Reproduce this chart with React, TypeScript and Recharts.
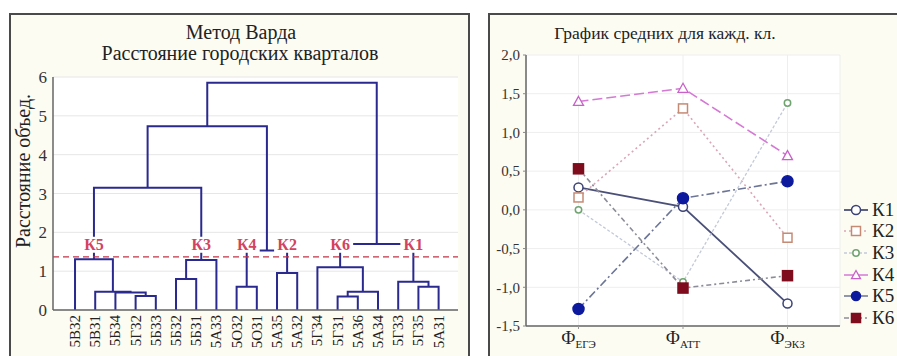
import React from 'react';
import { ComposedChart, LineChart, Line, Scatter, XAxis, YAxis, CartesianGrid, ReferenceLine } from 'recharts';

// --- dendrogram data (Ward method, city-block distance) ---
const leafLabels = ['5В32', '5В31', '5Б34', '5Г32', '5Б33', '5Б32', '5Б31', '5А33', '5О32', '5О31', '5А35', '5А32', '5Г34', '5Г31', '5А36', '5А34', '5Г33', '5Г35', '5А31'];
// merge k creates node id leafLabels.length + k
const mergeLeft = [3, 2, 1, 0, 5, 23, 22, 8, 10, 26, 25, 13, 30, 12, 17, 16, 32, 29];
const mergeRight = [4, 19, 20, 21, 6, 7, 24, 9, 11, 27, 28, 14, 15, 31, 18, 33, 34, 35];
const mergeHeight = [0.36, 0.45, 0.47, 1.31, 0.8, 1.29, 3.15, 0.6, 0.95, 1.53, 4.73, 0.35, 0.47, 1.1, 0.6, 0.73, 1.7, 5.85];
const cutHeight = 1.37;
const clusterNames = ['К5', 'К3', 'К4', 'К2', 'К6', 'К1'];
const clusterNodes = [22, 24, 26, 27, 32, 34];
const clusterLabelHeight = 1.68;
const distTicks = [0, 1, 2, 3, 4, 5, 6];

// --- cluster means ---
const categories = ['ЕГЭ', 'АТТ', 'ЭКЗ'];
const k1 = [0.29, 0.04, -1.21];
const k2 = [0.16, 1.31, -0.36];
const k3 = [0.0, -0.93, 1.38];
const k4 = [1.4, 1.57, 0.7];
const k5 = [-1.28, 0.15, 0.37];
const k6 = [0.53, -1.01, -0.85];
const meanTicks = [-1.5, -1, -0.5, 0, 0.5, 1, 1.5, 2];

const SERIF = "'Liberation Serif', 'Times New Roman', 'DejaVu Serif', 'Noto Serif', serif";

const nodeX: number[] = leafLabels.map((_, i) => i);
const nodeH: number[] = leafLabels.map(() => 0);
mergeHeight.forEach((h, k) => {
  nodeX.push((nodeX[mergeLeft[k]] + nodeX[mergeRight[k]]) / 2);
  nodeH.push(h);
});
const links = mergeHeight.map((h, k) => {
  const l = mergeLeft[k];
  const r = mergeRight[k];
  return [
    { x: nodeX[l], y: nodeH[l] },
    { x: nodeX[l], y: h },
    { x: nodeX[r], y: h },
    { x: nodeX[r], y: nodeH[r] },
  ];
});
const clusterPoints = clusterNames.map((name, i) => ({ x: nodeX[clusterNodes[i]], y: clusterLabelHeight, name }));

const meanRows = categories.map((cat, i) => ({ cat, K1: k1[i], K2: k2[i], K3: k3[i], K4: k4[i], K5: k5[i], K6: k6[i] }));

type MarkerKind = 'circle' | 'square' | 'triangle';
interface SeriesStyle {
  key: string;
  name: string;
  stroke: string;
  width: number;
  dash?: string;
  marker: MarkerKind;
  size: number;
  markerStroke: string;
  markerFill: string;
}

const seriesStyles: SeriesStyle[] = [
  { key: 'K1', name: 'К1', stroke: '#4a5078', width: 1.8, marker: 'circle', size: 4.5, markerStroke: '#3b4275', markerFill: '#ffffff' },
  { key: 'K2', name: 'К2', stroke: '#d9a6b6', width: 1.6, dash: '2 3', marker: 'square', size: 9, markerStroke: '#c68a74', markerFill: '#ffffff' },
  { key: 'K3', name: 'К3', stroke: '#c3c9d8', width: 1.3, dash: '3 2', marker: 'circle', size: 3.2, markerStroke: '#6fa46f', markerFill: '#ffffff' },
  { key: 'K4', name: 'К4', stroke: '#d47ad4', width: 1.6, dash: '10 4', marker: 'triangle', size: 10, markerStroke: '#c862c8', markerFill: '#ffffff' },
  { key: 'K5', name: 'К5', stroke: '#6c7596', width: 1.6, dash: '8 3 2 3', marker: 'circle', size: 5.5, markerStroke: '#0e1a9e', markerFill: '#0e1a9e' },
  { key: 'K6', name: 'К6', stroke: '#8c8c98', width: 1.6, dash: '5 3 2 3', marker: 'square', size: 10, markerStroke: '#7e0c1c', markerFill: '#7e0c1c' },
];

const drawMarker = (s: SeriesStyle, cx: number, cy: number, key?: any) => {
  if (s.marker === 'circle') {
    return <circle key={key} cx={cx} cy={cy} r={s.size} stroke={s.markerStroke} strokeWidth={1.5} fill={s.markerFill} />;
  }
  if (s.marker === 'square') {
    const h = s.size / 2;
    return <rect key={key} x={cx - h} y={cy - h} width={s.size} height={s.size} stroke={s.markerStroke} strokeWidth={1.5} fill={s.markerFill} />;
  }
  const h = s.size / 2;
  return (
    <polygon
      key={key}
      points={`${cx},${cy - h} ${cx + h},${cy + h * 0.8} ${cx - h},${cy + h * 0.8}`}
      stroke={s.markerStroke}
      strokeWidth={1.3}
      fill={s.markerFill}
    />
  );
};

const dotFor = (s: SeriesStyle) => (props: any) => {
  const { cx, cy, index } = props;
  if (cx == null || cy == null) return <g key={`e-${index}`} />;
  return drawMarker(s, cx, cy, `${s.key}-${index}`);
};

const LeafTick = (props: any) => {
  const { x, y, payload } = props;
  return (
    <text x={x} y={y} dy={5} transform={`rotate(-90 ${x} ${y})`} textAnchor="end" fontSize={15} style={{ fontFamily: SERIF }} fill="#222">
      {leafLabels[payload.value]}
    </text>
  );
};

const CatTick = (props: any) => {
  const { x, y, payload } = props;
  return (
    <text x={x} y={y + 13} textAnchor="middle" style={{ fontFamily: SERIF }} fill="#222">
      <tspan fontSize={18}>Ф</tspan>
      <tspan fontSize={11} dy={4}>{payload.value}</tspan>
    </text>
  );
};

const ClusterLabel = (props: any) => {
  const { cx, cy, payload } = props;
  return (
    <g>
      <rect x={cx - 13} y={cy - 8} width={26} height={16} fill="#ffffff" />
      <text x={cx} y={cy} dy={5} textAnchor="middle" fontSize={16} fontWeight="bold" style={{ fontFamily: SERIF }} fill="#d2435f">
        {payload.name}
      </text>
    </g>
  );
};

const fmtComma = (v: number) => v.toFixed(1).replace('.', ',');

const App: React.FC = () => {
  return (
    <div style={{ position: 'absolute', left: 0, top: 0, width: 897, height: 356, overflow: 'hidden', background: '#ffffff', fontFamily: SERIF }}>
      <style>{`.recharts-wrapper text, .recharts-wrapper tspan { font-family: ${SERIF}; }`}</style>
      {/* panel frames */}
      <div style={{ position: 'absolute', left: 9, top: 13, width: 457, height: 360, border: '2px solid #4a4a4a', background: '#fdfcf3' }} />
      <div style={{ position: 'absolute', left: 488, top: 13, width: 430, height: 360, border: '2px solid #4a4a4a', background: '#fdfcf3' }} />

      {/* left: dendrogram */}
      <div style={{ position: 'absolute', left: 0, top: 0 }}>
        <ComposedChart width={470} height={356} margin={{ top: 77, right: 12, bottom: 6, left: 13 }}>
          <CartesianGrid vertical={false} stroke="#e6e6e6" fill="#ffffff" />
          <XAxis
            dataKey="x"
            type="number"
            domain={[-1.09, 18.96]}
            allowDataOverflow
            ticks={leafLabels.map((_, i) => i)}
            interval={0}
            height={40}
            tickSize={0}
            tickMargin={5}
            tick={<LeafTick />}
            axisLine={{ stroke: '#666', strokeWidth: 1.5 }}
            tickLine={false}
          />
          <XAxis
            xAxisId="top"
            dataKey="x"
            type="number"
            orientation="top"
            domain={[-1.09, 18.96]}
            allowDataOverflow
            ticks={leafLabels.map((_, i) => i)}
            height={0}
            mirror
            tickSize={3}
            tick={false}
            axisLine={{ stroke: '#d8d8d8' }}
            tickLine={{ stroke: '#bbbbbb' }}
          />
          <YAxis
            dataKey="y"
            type="number"
            domain={[0, 6]}
            ticks={distTicks}
            width={40}
            tickSize={0}
            tickMargin={6}
            tickLine={false}
            axisLine={{ stroke: '#666', strokeWidth: 1.5 }}
            tick={{ fontSize: 17, fontFamily: SERIF, fill: '#333' }}
          />
          <YAxis yAxisId="r" orientation="right" type="number" domain={[0, 6]} width={0} tick={false} tickLine={false} axisLine={{ stroke: '#d8d8d8' }} />
          {links.map((pts, k) => (
            <Line
              key={`link-${k}`}
              data={pts}
              dataKey="y"
              type="linear"
              stroke="#2a2a8e"
              strokeWidth={2}
              dot={false}
              activeDot={false}
              isAnimationActive={false}
            />
          ))}
          <ReferenceLine y={cutHeight} stroke="#c23347" strokeDasharray="6 4" strokeWidth={1.2} />
          <Scatter data={clusterPoints} dataKey="y" shape={<ClusterLabel />} isAnimationActive={false} />
        </ComposedChart>
      </div>

      <div style={{ position: 'absolute', left: 241, top: 32, transform: 'translate(-50%, -50%)', fontSize: 20, color: '#222', whiteSpace: 'nowrap' }}>Метод Варда</div>
      <div style={{ position: 'absolute', left: 240, top: 53, transform: 'translate(-50%, -50%)', fontSize: 20, color: '#222', whiteSpace: 'nowrap' }}>Расстояние городских кварталов</div>
      <div style={{ position: 'absolute', left: 23, top: 171, transform: 'translate(-50%, -50%) rotate(-90deg)', fontSize: 20, color: '#222', whiteSpace: 'nowrap' }}>Расстояние объед.</div>

      {/* right: cluster means */}
      <div style={{ position: 'absolute', left: 488, top: 0 }}>
        <LineChart width={409} height={356} data={meanRows} margin={{ top: 55, right: 57, bottom: 4, left: 0 }}>
          <CartesianGrid stroke="#eeeeee" fill="#ffffff" />
          <XAxis
            dataKey="cat"
            padding={{ left: 52.5, right: 52.5 }}
            height={26}
            tickSize={3}
            tickMargin={2}
            tick={<CatTick />}
            axisLine={{ stroke: '#666', strokeWidth: 1.5 }}
            tickLine={{ stroke: '#999' }}
          />
          <XAxis xAxisId="top" dataKey="cat" orientation="top" padding={{ left: 52.5, right: 52.5 }} height={0} mirror tick={false} tickSize={3} axisLine={{ stroke: '#aaaaaa' }} tickLine={{ stroke: '#aaaaaa' }} />
          <YAxis
            type="number"
            domain={[-1.5, 2]}
            ticks={meanTicks}
            width={38}
            tickSize={3}
            tickMargin={3}
            tickFormatter={fmtComma}
            axisLine={{ stroke: '#666', strokeWidth: 1.5 }}
            tickLine={{ stroke: '#888' }}
            tick={{ fontSize: 15, fontFamily: SERIF, fill: '#333' }}
          />
          <YAxis yAxisId="r" orientation="right" type="number" domain={[-1.5, 2]} ticks={meanTicks} width={0} mirror tickSize={3} tick={false} axisLine={{ stroke: '#aaaaaa' }} tickLine={{ stroke: '#aaaaaa' }} />
          {seriesStyles.map((s) => (
            <Line
              key={s.key}
              dataKey={s.key}
              name={s.name}
              type="linear"
              stroke={s.stroke}
              strokeWidth={s.width}
              strokeDasharray={s.dash}
              dot={dotFor(s)}
              activeDot={false}
              isAnimationActive={false}
            />
          ))}
        </LineChart>
      </div>

      <div style={{ position: 'absolute', left: 665, top: 33, transform: 'translate(-50%, -50%)', fontSize: 17.5, color: '#222', whiteSpace: 'nowrap' }}>График средних для кажд. кл.</div>

      {/* legend */}
      <div style={{ position: 'absolute', left: 843, top: 199 }}>
        {seriesStyles.map((s) => (
          <div key={s.key} style={{ height: 21.6, display: 'flex', alignItems: 'center' }}>
            <svg width={26} height={16} style={{ display: 'block' }}>
              <line x1={1} y1={8} x2={25} y2={8} stroke={s.stroke} strokeWidth={s.width} strokeDasharray={s.dash} />
              {drawMarker({ ...s, size: s.marker === 'circle' ? Math.min(s.size, 4.5) : Math.min(s.size, 9) }, 13, 8)}
            </svg>
            <span style={{ marginLeft: 3, fontSize: 19, color: '#222', lineHeight: '16px' }}>{s.name}</span>
          </div>
        ))}
      </div>
    </div>
  );
};

export default App;
